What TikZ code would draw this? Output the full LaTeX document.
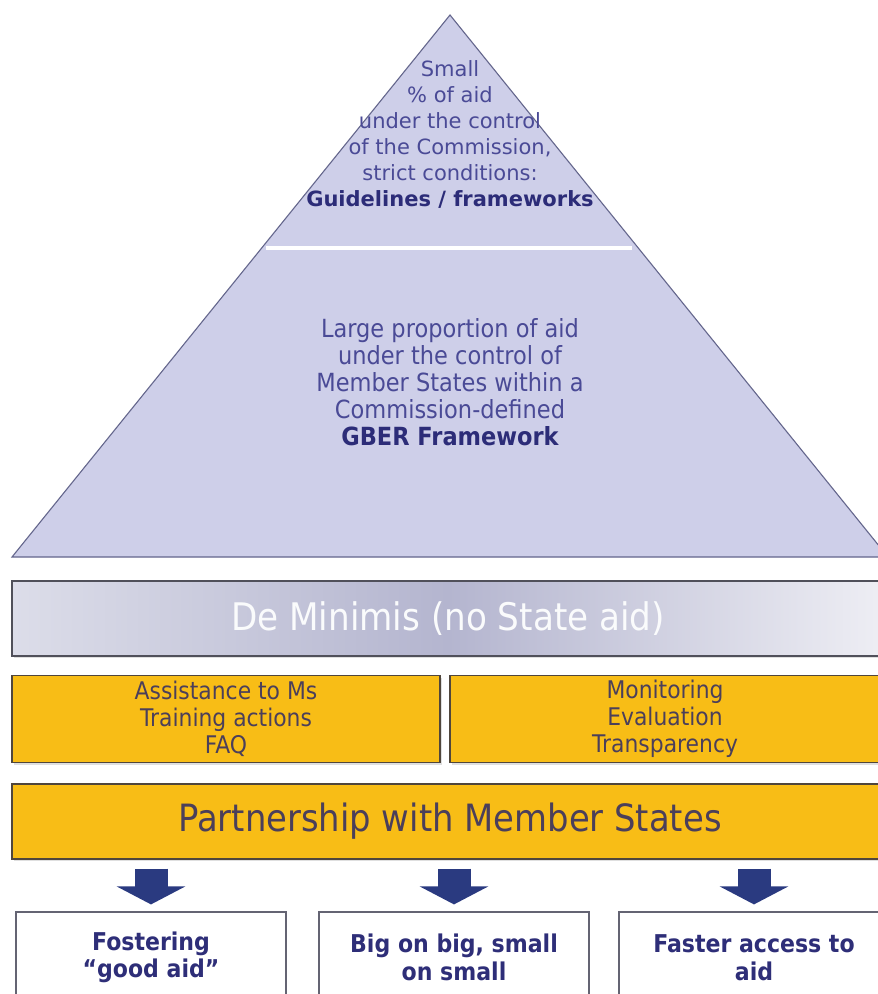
\documentclass[tikz,border=0pt]{standalone}
\usepackage{fontspec}
\setmainfont{DejaVu Sans}
\newfontfamily\condfont[FakeStretch=0.9]{DejaVu Sans}
\usetikzlibrary{shadows,arrows.meta}
\definecolor{pyrfill}{RGB}{206,207,233}
\definecolor{pyrline}{RGB}{100,102,140}
\definecolor{pyrtext}{RGB}{74,74,150}
\definecolor{pyrbold}{RGB}{44,44,120}
\definecolor{yel}{RGB}{248,189,22}
\definecolor{yelline}{RGB}{80,70,60}
\definecolor{yeltext}{RGB}{75,63,90}
\definecolor{barline}{RGB}{80,80,90}
\definecolor{barL}{RGB}{220,221,233}
\definecolor{barM}{RGB}{180,181,207}
\definecolor{barR}{RGB}{238,238,244}
\definecolor{arrowblue}{RGB}{42,58,128}
\definecolor{boxline}{RGB}{100,100,115}
\definecolor{boxtext}{RGB}{46,46,120}
\tikzset{
  pyramid/.style={fill=pyrfill, draw=pyrline, line width=1.1pt, line join=miter},
  toptext/.style={align=center, text=pyrtext, font=\fontsize{21}{26}\selectfont},
  midtext/.style={align=center, text=pyrtext, font=\condfont\fontsize{25}{27}\selectfont},
  demin/.style={draw=barline, line width=1.3pt, inner sep=0pt, shading=axis,
    left color=barL, right color=barR, middle color=barM,
    text=white!94!barM, font=\condfont\fontsize{38}{40}\selectfont,
    drop shadow={shadow xshift=1.5pt, shadow yshift=-2pt, opacity=0.25}},
  yelbox/.style={draw=yelline, line width=1.2pt, fill=yel, inner sep=0pt, align=center,
    text=yeltext, font=\condfont\fontsize{24.3}{27}\selectfont,
    drop shadow={shadow xshift=1.5pt, shadow yshift=-2pt, opacity=0.25}},
  partbar/.style={draw=yelline, line width=1.2pt, fill=yel, inner sep=0pt,
    text=yeltext, font=\condfont\fontsize{37.6}{40}\selectfont,
    drop shadow={shadow xshift=1.5pt, shadow yshift=-2pt, opacity=0.25}},
  botbox/.style={draw=boxline, line width=1.2pt, fill=white, inner sep=0pt,
    minimum width=270pt, minimum height=98pt},
  bottext/.style={align=center, text=boxtext,
    font=\condfont\bfseries\fontsize{24.5}{27.5}\selectfont},
  bigarrow/.style={draw=arrowblue, line width=33pt, line cap=butt,
    -{Triangle[width=68pt, length=18pt]}, shorten <=9pt, shorten >=7pt},
}
\begin{document}
\begin{tikzpicture}[x=1pt, y=-1pt]
\useasboundingbox (0,0) rectangle (878,994);
\clip (0,0) rectangle (878,994);
\fill[white] (0,0) rectangle (878,994);

% pyramid
\coordinate (apex) at (450,15);
\coordinate (pl) at (12,557);
\coordinate (pr) at (888,557);
\filldraw[pyramid] (apex) -- (pl) -- (pr) -- cycle;
\coordinate (sepL) at (266,248);
\coordinate (sepR) at (632,248);
\draw[white, line width=3.5pt] (sepL) -- (sepR);

\node[toptext] (top) at (450,134) {Small\\\% of aid\\under the control\\of the Commission,\\strict conditions:\\\textcolor{pyrbold}{\bfseries Guidelines / frameworks}};
\node[midtext] (mid) at (450,382) {Large proportion of aid\\under the control of\\Member States within a\\Commission-defined\\\textcolor{pyrbold}{\bfseries GBER Framework}};

% bars
\node[demin, minimum width=872pt, minimum height=75pt] (demin) at (448,618.5) {De Minimis (no State aid)};
\node[yelbox, minimum width=428pt, minimum height=87pt] (assist) at (226,719) {Assistance to Ms\\Training actions\\FAQ};
\node[yelbox, minimum width=430pt, minimum height=87pt] (monit) at (665,719) {Monitoring\\Evaluation\\Transparency};
\node[partbar, minimum width=876pt, minimum height=75pt] (part) at (450,821.5) {Partnership with Member States};

% bottom boxes
\node[botbox] (b1) at (151,961) {};
\node[botbox] (b2) at (454,961) {};
\node[botbox] (b3) at (754,961) {};
\node[bottext] (t1) at (151,957.5) {Fostering\\“good aid”};
\node[bottext] (t2) at (454,957.5) {Big on big, small\\on small};
\node[bottext] (t3) at (754,957.5) {Faster access to\\aid};

% arrows
\draw[bigarrow] (b1.north |- part.south) -- (b1.north);
\draw[bigarrow] (b2.north |- part.south) -- (b2.north);
\draw[bigarrow] (b3.north |- part.south) -- (b3.north);
\end{tikzpicture}
\end{document}
